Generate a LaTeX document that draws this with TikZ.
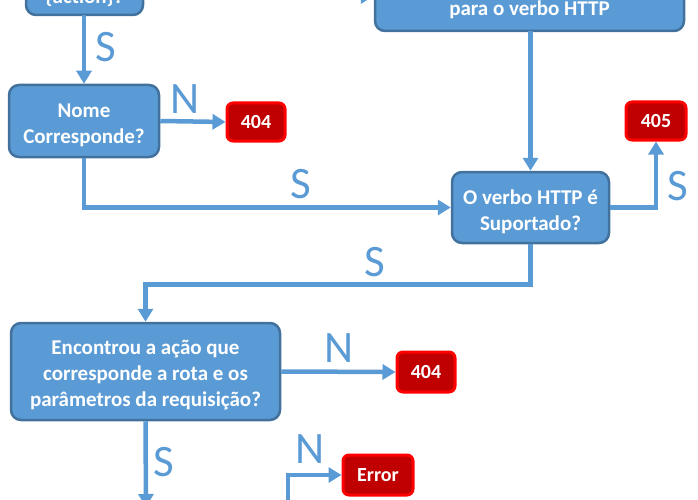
\documentclass[tikz,border=0pt]{standalone}
\usepackage{fontspec}
\setmainfont{Carlito}
\usetikzlibrary{arrows.meta}
\definecolor{boxfill}{HTML}{5B9BD5}
\definecolor{boxline}{HTML}{41719C}
\definecolor{errfill}{HTML}{C00000}
\definecolor{errline}{HTML}{FF0000}
\tikzset{
  boxfont/.style={font=\fontsize{21}{26}\selectfont\bfseries},
  stepbox/.style={draw=boxline, fill=boxfill, line width=2.5pt, rounded corners=10pt, inner sep=0pt},
  boxtext/.style={text=white, boxfont, align=center, inner sep=0pt},
  errbox/.style={draw=errline, fill=errfill, line width=3pt, rounded corners=6pt,
    text=white, font=\fontsize{20}{22}\selectfont\bfseries, align=center, inner sep=0pt},
  arr/.style={draw=boxfill, line width=4.5pt, -{Triangle[width=15pt,length=13pt]}},
  lbl/.style={text=boxfill, font=\fontsize{45}{45}\selectfont, inner sep=0pt}
}
\begin{document}
\begin{tikzpicture}[x=1pt,y=-1pt]
\useasboundingbox (0,0) rectangle (698,500);
\clip (0,0) rectangle (698,500);
% partial top boxes
\node[stepbox, minimum width=117pt, minimum height=75pt] (topa) at (84.5,-22.5) {};
\node[boxtext, anchor=base] (topatxt) at (84.5,4) {\{action\}?};
\node[stepbox, minimum width=309pt, minimum height=90pt] (topb) at (529.5,-14) {};
\node[boxtext, anchor=base] (topbtxt) at (529.5,16) {para o verbo HTTP};
\coordinate (inb) at (300,-4);
\draw[arr] (inb) -- (topb.west |- inb);
% nodes
\node[stepbox, minimum width=150pt, minimum height=72pt] (nome) at (84,121) {};
\node[boxtext] (nometxt) at ([yshift=-4pt]nome.center) {Nome\\Corresponde?};
\node[errbox, minimum width=58pt, minimum height=38pt] (e404a) at (256,122) {404};
\node[stepbox, minimum width=157pt, minimum height=71pt] (verbo) at (530.5,207.5) {};
\node[boxtext] (verbotxt) at ([yshift=-4pt]verbo.center) {O verbo HTTP é\\Suportado?};
\node[errbox, minimum width=60pt, minimum height=38pt] (e405) at (656,121) {405};
\node[stepbox, minimum width=269pt, minimum height=97pt] (enc) at (145.5,371.5) {};
\node[boxtext] (enctxt) at ([yshift=-4pt]enc.center) {Encontrou a ação que\\corresponde a rota e os\\parâmetros da requisição?};
\node[errbox, minimum width=58pt, minimum height=40pt] (e404b) at (426,372) {404};
\node[errbox, minimum width=70pt, minimum height=40pt] (err) at (378,475) {Error};
% connectors
\draw[arr] (84,15) -- (nome.north);
\draw[arr] (nome.east) -- (e404a.west);
\draw[arr] (nome.south) |- (verbo.west);
\draw[arr] (530.5,31) -- (verbo.north);
\draw[arr] (verbo.east) -| (e405.south);
\draw[arr] (verbo.south) -- ++(0,40) -| (enc.north);
\draw[arr] (enc.east) -- (e404b.west);
\coordinate (encout) at (146,507);
\draw[arr] (enc.south) -- (encout);
\coordinate (errin) at (288,520);
\draw[arr] (errin) |- (err.west);
% labels
\node[lbl] (s1) at (106,47) {S};
\node[lbl] (n1) at (185,99) {N};
\node[lbl] (s2) at (301,184) {S};
\node[lbl] (s3) at (678,186) {S};
\node[lbl] (s4) at (375,262) {S};
\node[lbl] (n2) at (339,348) {N};
\node[lbl] (s5) at (164,462) {S};
\node[lbl] (n3) at (310,449) {N};
\end{tikzpicture}
\end{document}
